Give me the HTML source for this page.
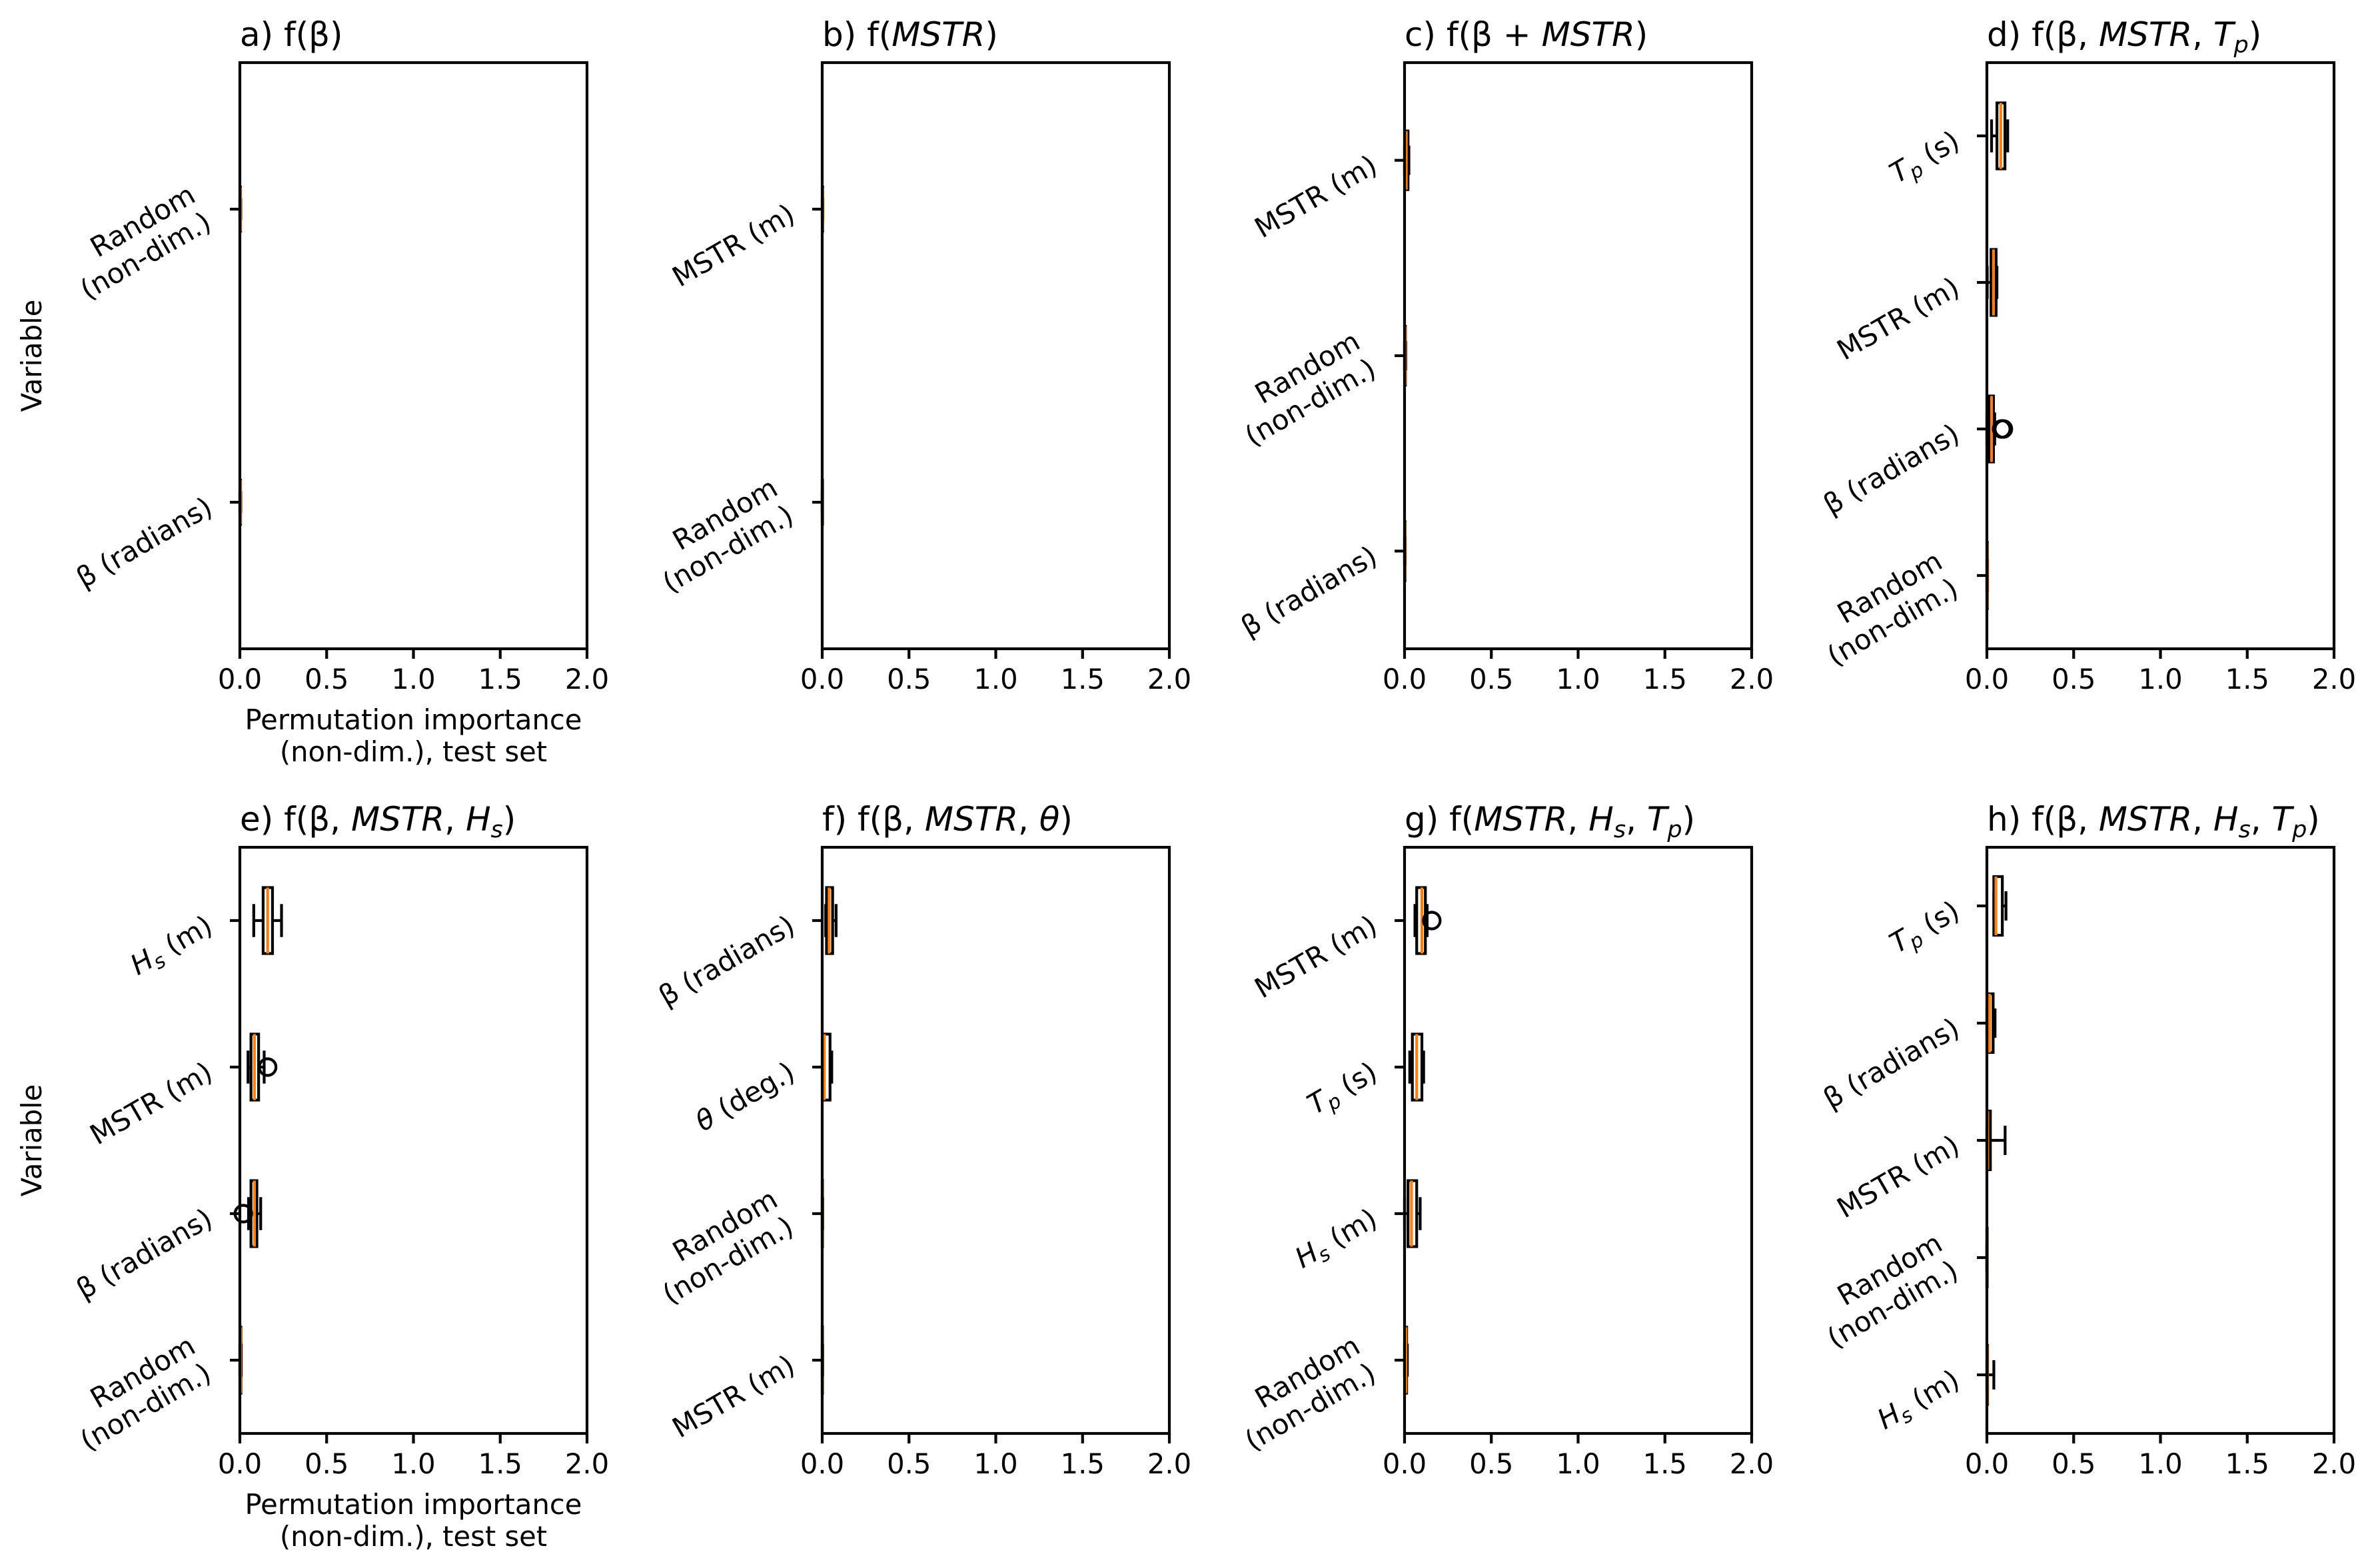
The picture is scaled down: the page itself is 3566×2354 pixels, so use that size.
<!DOCTYPE html>
<html><head><meta charset="utf-8"><style>
html,body{margin:0;padding:0;background:#fff;}
svg{display:block;font-family:"DejaVu Sans","Liberation Sans",sans-serif;}
</style></head><body>
<svg id="fig" width="3566" height="2354" viewBox="0 0 3566 2354" xmlns="http://www.w3.org/2000/svg"></svg>
<script>
// ---- data (bottom-to-top category order per panel) ----
const panelTitles = [
 'a) f(β)',
 'b) f(<tspan font-style="italic">MSTR</tspan>)',
 'c) f(β + <tspan font-style="italic">MSTR</tspan>)',
 'd) f(β, <tspan font-style="italic">MSTR</tspan>, <tspan font-style="italic">T</tspan><tspan font-style="italic" font-size="35" dy="10">p</tspan><tspan dy="-10">)</tspan>',
 'e) f(β, <tspan font-style="italic">MSTR</tspan>, <tspan font-style="italic">H</tspan><tspan font-style="italic" font-size="35" dy="10">s</tspan><tspan dy="-10">)</tspan>',
 'f) f(β, <tspan font-style="italic">MSTR</tspan>, <tspan font-style="italic">θ</tspan>)',
 'g) f(<tspan font-style="italic">MSTR</tspan>, <tspan font-style="italic">H</tspan><tspan font-style="italic" font-size="35" dy="10">s</tspan><tspan dy="-10">, </tspan><tspan font-style="italic">T</tspan><tspan font-style="italic" font-size="35" dy="10">p</tspan><tspan dy="-10">)</tspan>',
 'h) f(β, <tspan font-style="italic">MSTR</tspan>, <tspan font-style="italic">H</tspan><tspan font-style="italic" font-size="35" dy="10">s</tspan><tspan dy="-10">, </tspan><tspan font-style="italic">T</tspan><tspan font-style="italic" font-size="35" dy="10">p</tspan><tspan dy="-10">)</tspan>'
];
const catsA = ['beta','random'];
const catsB = ['random','mstr'];
const catsC = ['beta','random','mstr'];
const catsD = ['random','beta','mstr','tp'];
const catsE = ['random','beta','mstr','hs'];
const catsF = ['mstr','random','theta','beta'];
const catsG = ['random','hs','tp','mstr'];
const catsH = ['hs','random','mstr','beta','tp'];
// box stats: [whisker low, q1, median, q3, whisker high]
const boxA = [[0,0.002,0.003,0.004,0.005],[0,0.002,0.003,0.004,0.005]];
const boxB = [[0,0,0,0,0],[0,0.001,0.002,0.003,0.004]];
const boxC = [[0,0.001,0.002,0.003,0.004],[0,0.002,0.003,0.005,0.007],[0,0.005,0.01,0.02,0.025]];
const boxD = [[0,0.001,0.002,0.003,0.004],[0,0.015,0.027,0.038,0.045],[0.002,0.024,0.038,0.053,0.058],[0.027,0.058,0.08,0.104,0.12]];
const boxE = [[0,0.002,0.004,0.006,0.008],[0.05,0.064,0.084,0.098,0.12],[0.047,0.064,0.084,0.108,0.14],[0.08,0.134,0.16,0.188,0.24]];
const boxF = [[0,0,0.001,0.002,0.003],[0,0,0.001,0.002,0.003],[0.005,0.01,0.012,0.045,0.055],[0.02,0.025,0.04,0.06,0.08]];
const boxG = [[0,0.004,0.008,0.012,0.016],[0.0,0.02,0.04,0.07,0.09],[0.03,0.045,0.07,0.1,0.11],[0.06,0.07,0.1,0.12,0.13]];
const boxH = [[0,0.001,0.002,0.004,0.04],[0,0,0,0,0],[0,0.002,0.005,0.02,0.105],[0,0.003,0.016,0.036,0.047],[0.04,0.04,0.052,0.089,0.11]];
const outA = [[],[]];
const outB = [[],[]];
const outC = [[],[],[]];
const outD = [[],[0.085,0.095],[],[]];
const outE = [[],[0.02],[0.16],[]];
const outF = [[],[],[],[]];
const outG = [[],[],[],[0.157]];
const outH = [[],[],[],[],[]];
const xTicks = [0,0.5,1.0,1.5,2.0];
const xTickLabels = ['0.0','0.5','1.0','1.5','2.0'];

const catLabels = {
 beta:[['β (radians)']],
 random:[['Random'],['(non-dim.)']],
 mstr:[['MSTR (m)']],
 tp:[['<tspan font-style="italic">T</tspan><tspan font-style="italic" font-size="30" dy="8">p</tspan><tspan dy="-8"> (s)</tspan>']],
 hs:[['<tspan font-style="italic">H</tspan><tspan font-style="italic" font-size="30" dy="8">s</tspan><tspan dy="-8"> (m)</tspan>']],
 theta:[['<tspan font-style="italic">θ</tspan> (deg.)']]
};

const panels = [
 {cats:catsA,box:boxA,out:outA},{cats:catsB,box:boxB,out:outB},{cats:catsC,box:boxC,out:outC},{cats:catsD,box:boxD,out:outD},
 {cats:catsE,box:boxE,out:outE},{cats:catsF,box:boxF,out:outF},{cats:catsG,box:boxG,out:outG},{cats:catsH,box:boxH,out:outH}
];
const colLeft = [360,1234,2108,2982], rowTop=[94,1272], W=521, H=880;
const svg = document.getElementById('fig');
const NS='http://www.w3.org/2000/svg';
function mk(tag, attrs, parent){const e=document.createElementNS(NS,tag);for(const k in attrs)e.setAttribute(k,attrs[k]);(parent||svg).appendChild(e);return e;}
const LW=4.2, FS=41.7;

panels.forEach((p,pi)=>{
  const L=colLeft[pi%4], T=rowTop[Math.floor(pi/4)], B=T+H, n=p.cats.length;
  const xs=v=>L+v/2*W;
  const ys=pos=>B-(pos-0.5)*H/n;
  const g=mk('g',{});
  
  
  const t=mk('text',{x:L,y:T-25,'font-size':50},g);
  t.innerHTML=panelTitles[pi];
  
  
  const bw=Math.min(0.15*Math.max(n-1,1),0.5)*H/n;
  p.cats.forEach((c,i)=>{
    const y=ys(i+1), s=p.box[i];
    const bg=mk('g',{},g);
    
    
    mk('line',{x1:xs(s[0]),x2:xs(s[1]),y1:y,y2:y,stroke:'#000','stroke-width':LW},bg);
    mk('line',{x1:xs(s[3]),x2:xs(s[4]),y1:y,y2:y,stroke:'#000','stroke-width':LW},bg);
    mk('line',{x1:xs(s[0]),x2:xs(s[0]),y1:y-bw/4,y2:y+bw/4,stroke:'#000','stroke-width':LW},bg);
    mk('line',{x1:xs(s[4]),x2:xs(s[4]),y1:y-bw/4,y2:y+bw/4,stroke:'#000','stroke-width':LW},bg);
    mk('rect',{x:xs(s[1]),y:y-bw/2,width:Math.max(xs(s[3])-xs(s[1]),0.5),height:bw,fill:'none',stroke:'#000','stroke-width':LW},bg);
    mk('line',{x1:xs(s[2]),x2:xs(s[2]),y1:y-bw/2,y2:y+bw/2,stroke:'#ff7f0e','stroke-width':LW},bg);
    p.out[i].forEach(o=>{
      const ci=mk('circle',{cx:xs(o),cy:y,r:12.5,fill:'none',stroke:'#000','stroke-width':4.2},bg);
      
      
    });
    // y tick + label
    mk('line',{x1:L-15,x2:L,y1:y,y2:y,stroke:'#000','stroke-width':LW},g);
    const lines=catLabels[c];
    const lg=mk('g',{},g);
    
    
    if(lines.length===1){
      const ax=L-38, ay=y+16;
      const tx=mk('text',{x:ax,y:ay,'font-size':FS,'text-anchor':'end',transform:`rotate(-30 ${ax} ${ay})`},lg);
      tx.innerHTML=lines[0][0];
    } else {
      const a2x=L-40, a2y=y+28, a1x=a2x-24, a1y=a2y-41;
      const t1=mk('text',{x:a1x,y:a1y,'font-size':FS,'text-anchor':'end',transform:`rotate(-30 ${a1x} ${a1y})`},lg);
      t1.innerHTML=lines[0][0];
      const t2=mk('text',{x:a2x,y:a2y,'font-size':FS,'text-anchor':'end',transform:`rotate(-30 ${a2x} ${a2y})`},lg);
      t2.innerHTML=lines[1][0];
    }
  });
  // frame
  const fr=mk('rect',{x:L,y:T,width:W,height:H,fill:'none',stroke:'#000','stroke-width':LW},g);
  
  
  xTicks.forEach((v,k)=>{
    mk('line',{x1:xs(v),x2:xs(v),y1:B,y2:B+15,stroke:'#000','stroke-width':LW},g);
    const tl=mk('text',{x:xs(v),y:B+60,'font-size':FS,'text-anchor':'middle'},g);
    tl.textContent=xTickLabels[k];
    
    
  });
  if(pi%4===0){
    const cx=L+W/2;
    const xl=mk('text',{x:cx,y:B+121,'font-size':FS,'text-anchor':'middle'},g);
    xl.textContent='Permutation importance';
    
    
    const xl2=mk('text',{x:cx,y:B+169,'font-size':FS,'text-anchor':'middle'},g);
    xl2.textContent=' (non-dim.), test set';
    
    
    const yc=T+H/2;
    const yl=mk('text',{x:62,y:yc,'font-size':FS,'text-anchor':'middle',transform:`rotate(-90 62 ${yc})`},g);
    yl.textContent='Variable';
    
    
  }
});
</script>
</body></html>
